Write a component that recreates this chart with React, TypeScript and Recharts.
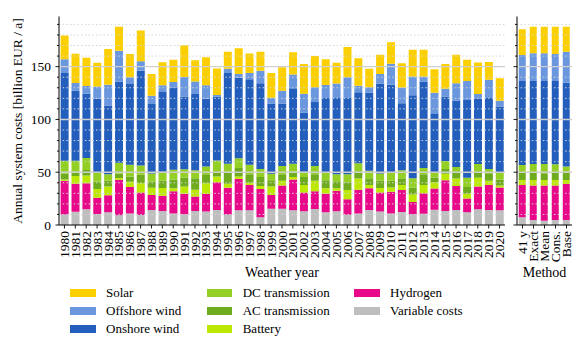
import { BarChart, Bar, XAxis, YAxis, ReferenceLine } from "recharts";

// weather years 1980-2020
const years = [
  1980, 1981, 1982, 1983, 1984, 1985, 1986, 1987, 1988, 1989, 1990, 1991, 1992, 1993,
  1994, 1995, 1996, 1997, 1998, 1999, 2000, 2001, 2002, 2003, 2004, 2005, 2006, 2007,
  2008, 2009, 2010, 2011, 2012, 2013, 2014, 2015, 2016, 2017, 2018, 2019, 2020,
];

const variableCosts = [10, 12.5, 15, 10.5, 12, 9.2, 11, 9.5, 14.2, 13.3, 11, 10.1, 13.3, 12.7, 14.2, 10, 14, 14, 7.3, 15.5, 15.5, 14, 13, 15.2, 12, 13, 9.8, 11, 14.2, 12.8, 11, 12.3, 10.2, 10.7, 14.5, 13.3, 14.2, 12, 15, 14.2, 14];
const hydrogen = [31.8, 26.5, 24.5, 15.3, 16.2, 33.6, 25, 21.2, 14.3, 14.4, 21, 19.6, 13.6, 16.7, 26.3, 25.4, 29.5, 24, 26.7, 13, 22, 29, 17.8, 16.8, 17.5, 19.4, 14.7, 22.5, 20.6, 18, 20.5, 20.9, 11.6, 19.3, 20, 29.1, 22.8, 13, 21.4, 23.8, 21.6];
const battery = [1.2, 7.5, 7.5, 8.2, 8.2, 1.7, 5, 8.9, 6.9, 7.3, 2.7, 6.7, 6.6, 10.2, 5.5, 3.6, 2.5, 2, 3, 8, 4.5, 2.5, 7.2, 10, 5.3, 2.4, 8.6, 10.5, 3.2, 4.2, 4, 4.8, 7.2, 8, 6, 6.1, 7, 4.5, 8.3, 4, 1.9];
const acTransmission = [5.7, 4.1, 5, 7, 5.4, 4, 5, 7.9, 5.7, 7, 8.3, 8.5, 10.8, 8.4, 4, 11.5, 8, 8, 8.5, 6, 6, 5, 7.5, 6, 7.7, 6.7, 7.4, 6, 6.3, 7, 6.5, 6.3, 6.5, 10, 4.5, 4.5, 5.3, 6.5, 5.3, 7, 5.5];
const dcTransmission = [12.1, 10.2, 11.5, 9.3, 6.3, 10.5, 11, 8.8, 7.6, 8.5, 9.3, 7.9, 7.6, 7.4, 11, 7.5, 9.3, 9, 7.5, 6, 8, 7.5, 5, 8, 7.1, 6.5, 7.5, 8.4, 7, 6.7, 8, 7.5, 8.8, 6, 4.5, 7.7, 5.7, 8.8, 7.8, 4, 6.3];
const onshoreWind = [83.2, 66.4, 60.9, 69.3, 65.2, 77, 76.5, 89.9, 65.9, 75.5, 77.4, 69, 72.1, 64.2, 60.7, 86, 76.2, 81, 81.3, 66.5, 59, 71.5, 56, 60.6, 70.6, 72.2, 72.2, 67.3, 74.3, 85.3, 82.8, 63.6, 78.7, 82, 55.7, 61, 62.7, 73.7, 61.5, 67.2, 62.9];
const offshoreWind = [13, 7.2, 7.2, 11.7, 19.6, 29, 6.5, 8.8, 7.9, 6.3, 5.7, 18.4, 12, 12.7, 1.5, 4, 3.5, 6, 11.9, 5.5, 12.2, 13, 17.8, 13.9, 12.3, 13.8, 19.8, 6.1, 4.8, 9, 20, 14.9, 17.6, 4.6, 20.1, 7.3, 16.6, 18, 4.9, 17.3, 5.6];
const solar = [22.4, 27.8, 26.8, 22.5, 33.9, 22.7, 22, 29.2, 20.5, 21.8, 21.1, 30.1, 20, 26.6, 25.1, 16, 24.5, 18.5, 17.8, 23.5, 22.2, 21.2, 28.3, 29.7, 24.6, 19.6, 28.5, 26.2, 17.6, 18.2, 20.4, 23, 25.4, 25.4, 22.2, 23.4, 26.9, 20, 29.8, 17, 21.2];

// aggregation methods
const methods = ["41\u2009y", "Exact", "Mean", "Cons.", "Base"];
const mVariableCosts = [7.3, 4.7, 4.1, 4.7, 4.7];
const mHydrogen = [30.6, 32.6, 33.2, 32.6, 34.1];
const mBattery = [4.7, 5.3, 5.3, 5.3, 3.8];
const mAcTransmission = [7, 7, 6.4, 6.7, 7.9];
const mDcTransmission = [7.2, 8.2, 8.8, 8.2, 4.8];
const mOnshoreWind = [79.6, 78.6, 78.6, 78.9, 79.5];
const mOffshoreWind = [24.6, 26.2, 26.2, 25.6, 29.4];
const mSolar = [24.4, 25.3, 25.3, 25.9, 23.7];

const gridValues = [10, 20, 30, 40, 50, 60, 70, 80, 90, 100, 110, 120, 130, 140, 150, 160, 170, 180, 190];
const yTicks = [0, 10, 20, 30, 40, 50, 60, 70, 80, 90, 100, 110, 120, 130, 140, 150, 160, 170, 180, 190];
const Y_MAX = 197.5;

const series = [
  { key: "variable", name: "Variable costs", color: "#bebebe" },
  { key: "hydrogen", name: "Hydrogen", color: "#e8088a" },
  { key: "battery", name: "Battery", color: "#bce804" },
  { key: "ac", name: "AC transmission", color: "#6eab1f" },
  { key: "dc", name: "DC transmission", color: "#93cf24" },
  { key: "onshore", name: "Onshore wind", color: "#235ebc" },
  { key: "offshore", name: "Offshore wind", color: "#6a97de" },
  { key: "solar", name: "Solar", color: "#fcd000" },
];

const yearRows = years.map((y, i) => ({
  label: String(y),
  variable: variableCosts[i],
  hydrogen: hydrogen[i],
  battery: battery[i],
  ac: acTransmission[i],
  dc: dcTransmission[i],
  onshore: onshoreWind[i],
  offshore: offshoreWind[i],
  solar: solar[i],
}));

const methodRows = methods.map((m, i) => ({
  label: m,
  variable: mVariableCosts[i],
  hydrogen: mHydrogen[i],
  battery: mBattery[i],
  ac: mAcTransmission[i],
  dc: mDcTransmission[i],
  onshore: mOnshoreWind[i],
  offshore: mOffshoreWind[i],
  solar: mSolar[i],
}));

const legendColumns = [
  ["Solar", "Offshore wind", "Onshore wind"],
  ["DC transmission", "AC transmission", "Battery"],
  ["Hydrogen", "Variable costs"],
];

const FONT = "'Liberation Serif', 'Times New Roman', serif";

function XTick(props: any) {
  const { x, y, payload } = props;
  return (
    <g transform={`translate(${x},${y})`}>
      <line x1={0} x2={0} y1={0} y2={3.5} stroke="#000" strokeWidth={0.9} />
      <text transform="rotate(-90)" x={-6} y={0} dy="0.34em" textAnchor="end" fontSize={13.5} fill="#000" fontFamily={FONT}>
        {payload.value}
      </text>
    </g>
  );
}

function makeYTick(showLabels: boolean) {
  return (props: any) => {
    const { x, y, payload } = props;
    const major = payload.value % 50 === 0;
    return (
      <g>
        <line x1={x} x2={x - (major ? 3.5 : 2)} y1={y} y2={y} stroke="#000" strokeWidth={0.9} />
        {showLabels && major ? (
          <text x={x - 8} y={y} dy="0.34em" textAnchor="end" fontSize={13.5} fill="#000" fontFamily={FONT}>
            {payload.value}
          </text>
        ) : null}
      </g>
    );
  };
}

function gridLines() {
  return gridValues.map((v) =>
    v % 50 === 0 ? (
      <ReferenceLine key={v} y={v} stroke="#cfcfcf" strokeWidth={1.4} ifOverflow="hidden" />
    ) : (
      <ReferenceLine key={v} y={v} stroke="#d4d4d4" strokeWidth={1} strokeDasharray="1.5 2.2" ifOverflow="hidden" />
    )
  );
}

function bars() {
  return series.map((s) => (
    <Bar key={s.key} dataKey={s.key} name={s.name} stackId="a" fill={s.color} isAnimationActive={false} />
  ));
}

function frame() {
  return [
    <XAxis key="top" xAxisId="top" orientation="top" dataKey="label" height={0} tick={false} tickLine={false} axisLine={{ stroke: "#000", strokeWidth: 1 }} />,
    <YAxis key="right" yAxisId="right" orientation="right" width={0} domain={[0, Y_MAX]} tick={false} tickLine={false} axisLine={{ stroke: "#000", strokeWidth: 1 }} />,
  ];
}

export default function App() {
  return (
    <div style={{ position: "absolute", left: 0, top: 0, width: 582, height: 351, background: "#fff", fontFamily: FONT }}>
      <div style={{ position: "absolute", left: 0, top: 0 }}>
        <BarChart width={510} height={285} data={yearRows} margin={{ top: 16.5, right: 5, bottom: 0, left: 0 }} barCategoryGap="15%">
          <XAxis
            dataKey="label"
            interval={0}
            height={60}
            tickSize={0}
            tickMargin={0}
            tickLine={false}
            axisLine={{ stroke: "#000", strokeWidth: 1 }}
            tick={<XTick />}
            label={{
              content: () => (
                <text x={282} y={277} textAnchor="middle" fontSize={14} fill="#000" fontFamily={FONT}>
                  Weather year
                </text>
              ),
            }}
          />
          <YAxis
            width={59}
            domain={[0, Y_MAX]}
            ticks={yTicks}
            interval={0}
            allowDataOverflow
            tickSize={0}
            tickMargin={0}
            tickLine={false}
            axisLine={{ stroke: "#000", strokeWidth: 1 }}
            tick={makeYTick(true)}
            label={{
              content: () => (
                <text x={22} y={121} transform="rotate(-90 22 121)" textAnchor="middle" fontSize={13.5} fill="#000" fontFamily={FONT}>
                  Annual system costs [billion EUR / a]
                </text>
              ),
            }}
          />
          {frame()}
          {bars()}
          {gridLines()}
        </BarChart>
      </div>
      <div style={{ position: "absolute", left: 510, top: 0 }}>
        <BarChart width={72} height={285} data={methodRows} margin={{ top: 16.5, right: 10, bottom: 0, left: 0 }} barCategoryGap="16%">
          <XAxis
            dataKey="label"
            interval={0}
            height={60}
            tickSize={0}
            tickMargin={0}
            tickLine={false}
            axisLine={{ stroke: "#000", strokeWidth: 1 }}
            tick={<XTick />}
            label={{
              content: () => (
                <text x={34.5} y={277} textAnchor="middle" fontSize={14} fill="#000" fontFamily={FONT}>
                  Method
                </text>
              ),
            }}
          />
          <YAxis
            width={7}
            domain={[0, Y_MAX]}
            ticks={yTicks}
            interval={0}
            allowDataOverflow
            tickSize={0}
            tickMargin={0}
            tickLine={false}
            axisLine={{ stroke: "#000", strokeWidth: 1 }}
            tick={makeYTick(false)}
          />
          {frame()}
          {bars()}
          {gridLines()}
        </BarChart>
      </div>
      {legendColumns.map((col, ci) => (
        <div key={ci} style={{ position: "absolute", left: [70, 206.7, 354][ci], top: 284 }}>
          {col.map((name) => {
            const s = series.find((q) => q.name === name)!;
            return (
              <div key={name} style={{ display: "flex", alignItems: "center", height: 18 }}>
                <div style={{ width: 25.5, height: 8.5, background: s.color }} />
                <span style={{ marginLeft: 10.5, fontSize: 13, color: "#000", lineHeight: "18px" }}>{name}</span>
              </div>
            );
          })}
        </div>
      ))}
    </div>
  );
}
